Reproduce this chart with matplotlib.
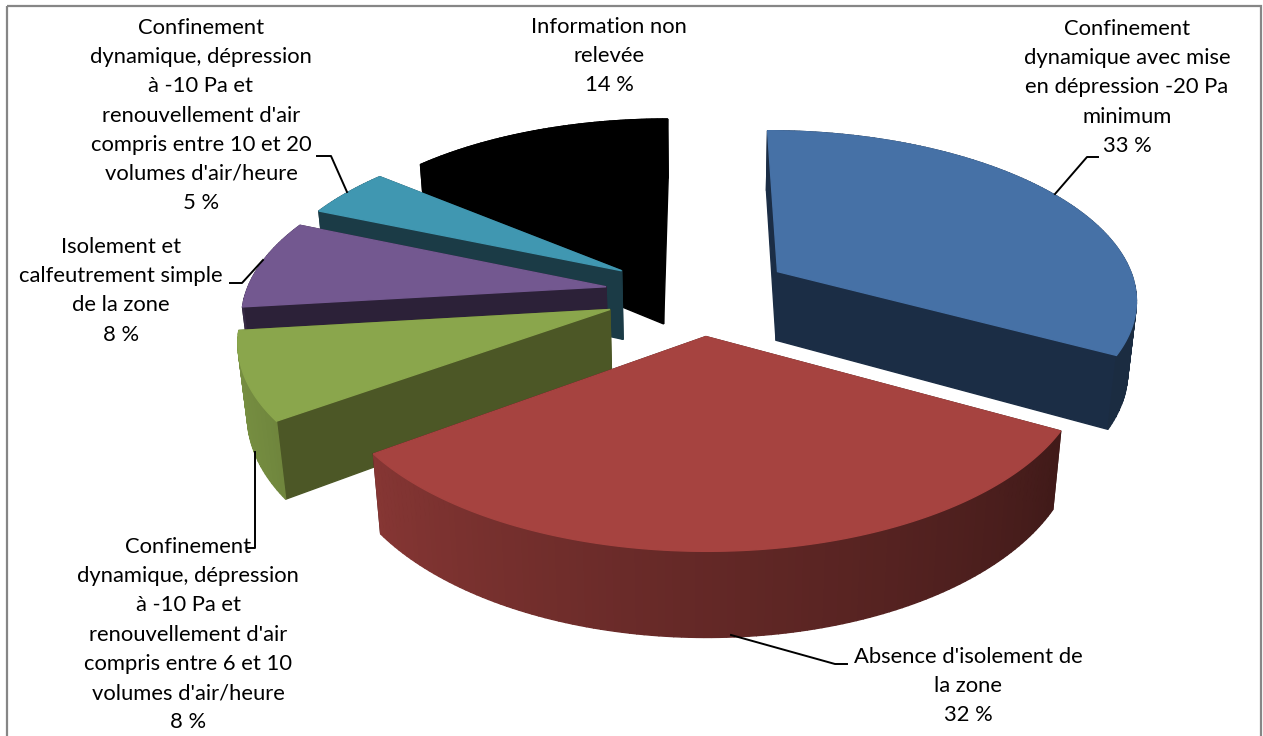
import numpy as np
import matplotlib
matplotlib.use('Agg')
import matplotlib.pyplot as plt
from matplotlib.patches import Rectangle
from matplotlib.colors import to_rgb

# --- Data ---
labels = [
    "Confinement\ndynamique avec mise\nen dépression -20 Pa\nminimum",
    "Absence d'isolement de\nla zone",
    "Confinement\ndynamique, dépression\nà -10 Pa et\nrenouvellement d'air\ncompris entre 6 et 10\nvolumes d'air/heure",
    "Isolement et\ncalfeutrement simple\nde la zone",
    "Confinement\ndynamique, dépression\nà -10 Pa et\nrenouvellement d'air\ncompris entre 10 et 20\nvolumes d'air/heure",
    "Information non\nrelevée",
]
shares = [33.0, 32.0, 8.1, 8.3, 4.6, 14.0]

top_colors = ['#4671A6', '#A64340', '#8AA64C', '#735890', '#4097B1', '#000000']
wall_colors = ['#1B2D45', '#421B18', '#4C5726', '#2C2138', '#1B3B46', '#000000']

# label centre x, baseline y of the first line, leader line points
label_pos = [(1127, 35), (968, 663), (188, 553), (121, 253), (201, 34), (609, 33)]
leaders = [
    [(1055, 194), (1087, 157), (1098, 157)],
    [(731, 635), (835, 664), (847, 664)],
    [(255, 452), (255, 548), (248, 548)],
    [(263, 260), (242, 283), (230, 283)],
    [(347, 192), (331, 156), (317, 156)],
    [],
]

# --- Fake 3D projection of the pie, in pixels ---
CX, CY = 700, 293
A, B, C = 360, 168, 70
P, Q = 0.15, 0.02
explode = [0.255, 0.25, 0.265, 0.265, 0.26, 0.25]


def project(x, y, z):
    w = 1 + P * y
    return CX + A * x / (w - Q * z), CY - (B * y + C * z) / w


def arc_shade(theta):
    # the rim goes dark again past the green slice
    return np.interp(theta, [90, 120, 180, 240, 262, 264], [0.39, 0.39, 0.6, 0.83, 0.88, 0.38])


def face(ax, xs, ys, zs, color):
    px, py = project(np.array(xs), np.array(ys), np.array(zs))
    ax.fill(px, py, facecolor=color, edgecolor=color, linewidth=1.0, zorder=ax.z)
    ax.z += 1


fig = plt.figure(figsize=(12.63, 7.36), dpi=100)
ax = fig.add_axes([0, 0, 1, 1])
ax.set_xlim(0, 1263)
ax.set_ylim(736, 0)
ax.axis('off')
ax.z = 2

edges = 360 * np.cumsum([0] + shares) / sum(shares)

# back slices first
for i in [5, 4, 3, 2, 1, 0]:
    t0, t1 = edges[i], edges[i + 1]
    mid = np.radians((t0 + t1) / 2)
    ox, oy = explode[i] * np.sin(mid), explode[i] * np.cos(mid)
    thetas = np.linspace(t0, t1, int(t1 - t0) + 2)
    ax_x = ox + np.sin(np.radians(thetas))
    ax_y = oy + np.cos(np.radians(thetas))

    # walls, far ones first
    faces = []
    faces.append((oy + np.cos(np.radians(t0)) / 2,
                  [ox, ax_x[0], ax_x[0], ox], [oy, ax_y[0], ax_y[0], oy], wall_colors[i]))
    faces.append((oy + np.cos(np.radians(t1)) / 2,
                  [ox, ax_x[-1], ax_x[-1], ox], [oy, ax_y[-1], ax_y[-1], oy], wall_colors[i]))
    base = np.array(to_rgb(top_colors[i]))
    for k in range(len(thetas) - 1):
        col = tuple(base * arc_shade((thetas[k] + thetas[k + 1]) / 2))
        faces.append(((ax_y[k] + ax_y[k + 1]) / 2,
                      [ax_x[k], ax_x[k + 1], ax_x[k + 1], ax_x[k]],
                      [ax_y[k], ax_y[k + 1], ax_y[k + 1], ax_y[k]], col))
    faces.sort(key=lambda f: -f[0])
    for _, xs, ys, col in faces:
        face(ax, xs, ys, [0, 0, -1, -1], col)

    top_x = np.r_[ox, ax_x]
    top_y = np.r_[oy, ax_y]
    face(ax, top_x, top_y, np.zeros(len(top_x)), top_colors[i])

# --- Labels ---
LINE_PX = 29.2
for i in range(len(labels)):
    x, y = label_pos[i]
    lines = labels[i].split('\n') + [f"{shares[i]:.0f} %"]
    for n, line in enumerate(lines):
        ax.text(x, y + n * LINE_PX, line, ha='center', va='baseline',
                family='Lato', fontsize=15.8, color='black', zorder=5000)
    if leaders[i]:
        lx, ly = zip(*leaders[i])
        ax.plot(lx, ly, color='black', lw=1.4, zorder=5000)

# chart frame
ax.add_patch(Rectangle((7, 6), 1254, 760, fill=False, edgecolor='#868686', lw=1.6, zorder=5001))

fig.savefig('out.png', dpi=100)
